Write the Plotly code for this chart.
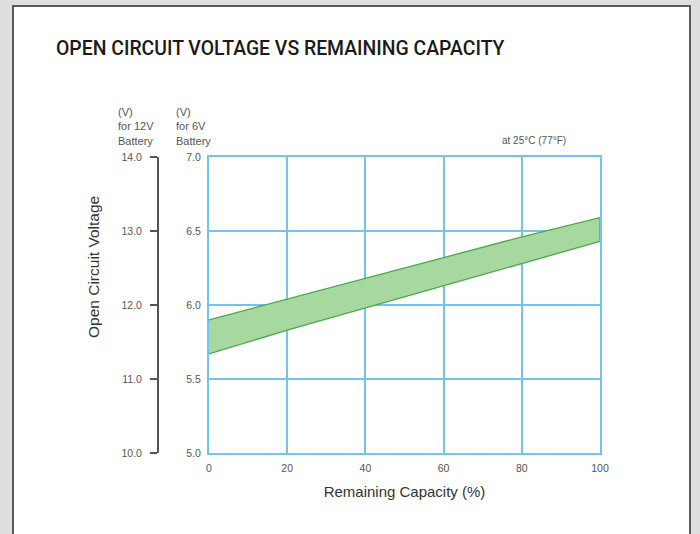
import plotly.graph_objects as go

# Data
capacity = [0, 20, 40, 60, 80, 100]                 # Remaining Capacity (%)
ocv_upper_6v = [5.90, 6.04, 6.18, 6.32, 6.46, 6.59]  # upper edge of band (6V battery)
ocv_lower_6v = [5.67, 5.83, 5.98, 6.13, 6.28, 6.43]  # lower edge of band (6V battery)
ticks_6v = [5.0, 5.5, 6.0, 6.5, 7.0]
ticks_12v = [10.0, 11.0, 12.0, 13.0, 14.0]
x_ticks = [0, 20, 40, 60, 80, 100]

W, H = 700, 534
px0, px1 = 209, 600
py0, py1 = 157, 453

def fx(p):
    return p / W

def fy(p):
    return 1 - p / H

fig = go.Figure()
fig.add_trace(go.Scatter(
    x=capacity + capacity[::-1],
    y=ocv_upper_6v + ocv_lower_6v[::-1],
    fill="toself",
    fillcolor="#a6d8a0",
    line=dict(color="#4aa84a", width=1.3),
    mode="lines",
    hoverinfo="skip",
    showlegend=False,
))
# same band expressed on the 12V scale (invisible, keeps the 12V axis alive)
fig.add_trace(go.Scatter(
    x=capacity,
    y=[2 * v for v in ocv_lower_6v],
    yaxis="y2",
    mode="lines",
    opacity=0,
    hoverinfo="skip",
    showlegend=False,
))

grid_c = "#74c3ea"
tick_font = dict(family="Liberation Sans, Arial, sans-serif", size=10.5, color="#555555")

fig.update_layout(
    width=W, height=H,
    autosize=False,
    margin=dict(l=0, r=0, t=0, b=0, pad=0),
    paper_bgcolor="#dedede",
    plot_bgcolor="white",
    showlegend=False,
    xaxis=dict(
        domain=[fx(px0), fx(px1)],
        range=[0, 100],
        tickvals=x_ticks,
        automargin=False,
        showgrid=True, gridcolor=grid_c, gridwidth=2,
        showline=True, linecolor=grid_c, linewidth=2, mirror=True,
        zeroline=False,
        ticks="outside", ticklen=4, tickcolor="rgba(0,0,0,0)",
        tickfont=tick_font,
        title=dict(text="Remaining Capacity (%)", standoff=14,
                   font=dict(family="Liberation Sans, Arial, sans-serif", size=15, color="#333333")),
    ),
    yaxis=dict(
        domain=[fy(py1), fy(py0)],
        range=[5.0, 7.0],
        tickvals=ticks_6v,
        tickformat=".1f",
        automargin=False,
        showgrid=True, gridcolor=grid_c, gridwidth=2,
        showline=True, linecolor=grid_c, linewidth=2, mirror=True,
        zeroline=False,
        ticks="outside", ticklen=4, tickcolor="rgba(0,0,0,0)",
        tickfont=tick_font,
    ),
    yaxis2=dict(
        overlaying="y",
        anchor="free",
        side="left",
        position=fx(158),
        range=[10.0, 14.0],
        tickvals=ticks_12v,
        tickformat=".1f",
        automargin=False,
        showgrid=False, zeroline=False,
        showline=True, linecolor="#555555", linewidth=2,
        ticks="outside", ticklen=7, tickwidth=2, tickcolor="#555555",
        ticklabelstandoff=6,
        tickfont=tick_font,
    ),
)

# White card with dark border
fig.add_shape(type="rect", xref="paper", yref="paper",
              x0=fx(13), x1=fx(690), y0=fy(560), y1=fy(6),
              fillcolor="white", line=dict(color="#5a5a5a", width=2), layer="below")

fig.add_annotation(text="OPEN CIRCUIT VOLTAGE VS REMAINING CAPACITY",
                   xref="paper", yref="paper", x=fx(54), y=fy(48),
                   xanchor="left", yanchor="middle", showarrow=False,
                   font=dict(family="Roboto, sans-serif", size=19.4, color="#1a1a1a", weight=500))

fig.add_annotation(text="Open Circuit Voltage", textangle=-90,
                   xref="paper", yref="paper", x=fx(93), y=fy(267),
                   xanchor="center", yanchor="middle", showarrow=False,
                   font=dict(family="Liberation Sans, Arial, sans-serif", size=15.5, color="#333333"))

hdr_font = dict(family="Liberation Sans, Arial, sans-serif", size=11, color="#555555")
fig.add_annotation(text="(V)<br>for 12V<br>Battery", align="left",
                   xref="paper", yref="paper", x=fx(116), y=fy(104),
                   xanchor="left", yanchor="top", showarrow=False, font=hdr_font)
fig.add_annotation(text="(V)<br>for 6V<br>Battery", align="left",
                   xref="paper", yref="paper", x=fx(174), y=fy(104),
                   xanchor="left", yanchor="top", showarrow=False, font=hdr_font)
fig.add_annotation(text="at 25°C (77°F)",
                   xref="paper", yref="paper", x=fx(500), y=fy(140),
                   xanchor="left", yanchor="middle", showarrow=False,
                   font=dict(family="Liberation Sans, Arial, sans-serif", size=10, color="#555555"))

fig.write_html(
    "out.html",
    config={"displayModeBar": False},
    post_script="document.body.style.margin='0';document.body.style.background='#dedede';",
)
